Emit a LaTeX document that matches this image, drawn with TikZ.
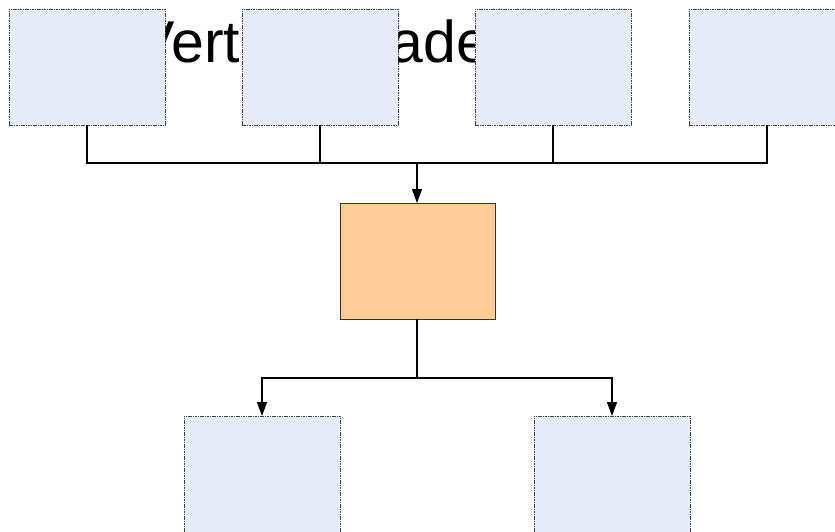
\documentclass[tikz,border=0pt]{standalone}
\usepackage{fontspec}
\setmainfont{Liberation Sans}
\usetikzlibrary{arrows.meta}
\definecolor{boxblue}{HTML}{E6ECF7}
\definecolor{boxorange}{HTML}{FFCC99}
\tikzset{
  bluebox/.style={draw=black!75, line width=0.6pt, dash pattern=on 1.6pt off 0.8pt, fill=boxblue,
    minimum width=156pt, minimum height=116pt, anchor=north west, inner sep=0pt, outer sep=0pt},
  orangebox/.style={draw=black!80, line width=0.8pt, fill=boxorange,
    minimum width=155pt, minimum height=116pt, anchor=north west, inner sep=0pt, outer sep=0pt},
  conn/.style={line width=1.3pt, black},
  arr/.style={conn, -{Triangle[width=10pt,length=14pt]}},
  bigtext/.style={font=\fontsize{59pt}{61pt}\selectfont, inner sep=0pt, anchor=base west}
}
\begin{document}
\begin{tikzpicture}[x=1pt,y=-1pt]
\useasboundingbox (0,0) rectangle (835,531);
\fill[white] (0,0) rectangle (835,531);
\node[bigtext] (title) at (135,62) {Vertex Shader};
\node[bluebox] (b1) at (9,9) {};
\node[bluebox] (b2) at (242,9) {};
\node[bluebox] (b3) at (475,9) {};
\node[bluebox] (b4) at (689,9) {};
\node[orangebox] (core) at (340,203) {};
\node[bluebox] (b5) at (184,416) {};
\node[bluebox] (b6) at (534,416) {};
\coordinate (j1) at (417,163);
\coordinate (j2) at (417,378);
\draw[conn] (b1.south) |- (j1);
\draw[conn] (b2.south) |- (j1);
\draw[conn] (b3.south) |- (j1);
\draw[conn] (b4.south) |- (j1);
\draw[arr] (j1) -- (j1 |- core.north);
\draw[conn] (j2 |- core.south) -- (j2);
\draw[arr] (j2) -| (b5.north);
\draw[arr] (j2) -| (b6.north);
\end{tikzpicture}
\end{document}
